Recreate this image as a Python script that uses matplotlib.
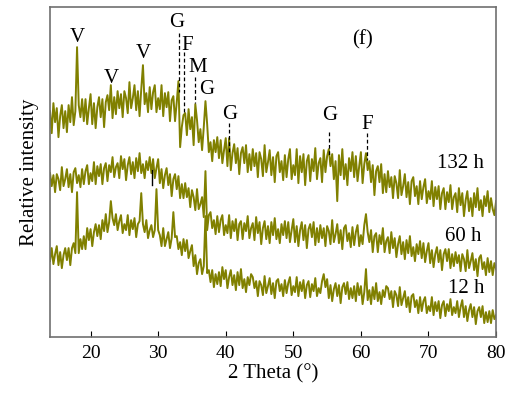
import numpy as np
import matplotlib
matplotlib.use("Agg")
import matplotlib.pyplot as plt

i_132h = [
    226, 204, 234, 215, 229, 200, 221, 232, 209, 226, 205, 232, 215, 240, 212, 226, 290, 232, 220, 238,
    216, 238, 213, 229, 243, 213, 234, 209, 230, 240, 220, 238, 210, 235, 242, 227, 252, 219, 240, 223,
    246, 229, 243, 220, 246, 239, 224, 255, 229, 239, 252, 227, 246, 221, 248, 272, 233, 244, 225, 250,
    228, 245, 252, 225, 239, 228, 252, 221, 244, 230, 245, 216, 237, 241, 216, 235, 256, 190, 210, 222,
    224, 202, 228, 208, 220, 192, 233, 217, 195, 208, 187, 210, 236, 213, 185, 195, 176, 197, 185, 200,
    179, 197, 174, 187, 199, 171, 199, 167, 184, 193, 174, 189, 163, 184, 190, 174, 192, 165, 183, 167,
    188, 171, 184, 160, 185, 178, 161, 192, 165, 175, 187, 162, 180, 155, 181, 185, 165, 176, 157, 182,
    160, 178, 188, 158, 172, 162, 188, 154, 181, 165, 183, 152, 176, 182, 156, 178, 166, 189, 158, 174,
    179, 155, 187, 165, 181, 188, 171, 183, 158, 176, 136, 182, 162, 188, 158, 173, 152, 179, 166, 185,
    160, 181, 156, 171, 185, 154, 173, 184, 167, 176, 155, 172, 142, 166, 171, 155, 173, 144, 163, 145,
    166, 150, 160, 139, 161, 154, 139, 167, 142, 151, 163, 140, 155, 133, 156, 160, 141, 151, 133, 156,
    138, 150, 158, 134, 146, 138, 156, 131, 150, 138, 151, 128, 144, 149, 128, 145, 135, 152, 128, 140,
    144, 125, 149, 132, 144, 121, 137, 146, 126, 139, 121, 144, 130, 149, 127, 137, 121, 141, 131, 146,
    125, 139, 128, 122, 136,
]
i_60h = [
    164, 151, 162, 145, 163, 158, 147, 170, 151, 158, 168, 150, 163, 145, 165, 169, 154, 162, 150, 168,
    153, 166, 172, 153, 164, 156, 175, 153, 171, 161, 173, 153, 169, 174, 156, 172, 165, 180, 160, 170,
    174, 159, 181, 168, 178, 157, 172, 180, 163, 175, 159, 179, 166, 184, 164, 173, 159, 176, 167, 180,
    164, 178, 159, 169, 178, 154, 168, 149, 162, 169, 152, 163, 141, 158, 163, 148, 161, 139, 153, 139,
    154, 140, 149, 130, 147, 140, 127, 148, 128, 133, 140, 120, 166, 107, 122, 125, 109, 117, 103, 121,
    105, 117, 122, 102, 112, 104, 122, 99, 116, 106, 118, 97, 113, 116, 98, 114, 106, 121, 99, 109,
    114, 97, 120, 104, 115, 93, 109, 116, 98, 111, 94, 115, 102, 119, 98, 108, 94, 113, 102, 116,
    99, 115, 95, 107, 118, 95, 111, 91, 107, 115, 97, 112, 89, 108, 113, 100, 115, 92, 109, 95,
    112, 99, 109, 91, 111, 106, 93, 117, 95, 103, 113, 94, 107, 88, 109, 112, 96, 104, 90, 110,
    92, 105, 112, 91, 102, 93, 112, 123, 105, 95, 107, 85, 101, 104, 85, 102, 93, 109, 85, 96,
    100, 84, 105, 89, 99, 80, 93, 101, 83, 95, 78, 97, 84, 101, 81, 90, 76, 93, 83, 96,
    79, 94, 75, 86, 94, 74, 87, 70, 83, 90, 75, 87, 67, 83, 88, 76, 88, 69, 83, 71,
    85, 74, 82, 66, 83, 78, 66, 87, 69, 76, 84, 67, 78, 61, 79, 82, 68, 75, 62, 79,
    65, 76, 62, 74, 68,
]
i_12h = [
    76, 89, 73, 83, 91, 72, 85, 69, 82, 89, 77, 89, 72, 89, 94, 84, 145, 84, 98, 88,
    101, 88, 109, 97, 108, 91, 105, 113, 101, 112, 98, 117, 106, 123, 105, 115, 136, 119, 112, 123,
    107, 116, 122, 104, 113, 107, 122, 102, 117, 108, 119, 100, 113, 116, 144, 113, 105, 117, 99, 107,
    112, 100, 107, 148, 107, 102, 91, 109, 91, 98, 105, 89, 99, 125, 100, 101, 88, 95, 82, 98,
    86, 97, 79, 86, 92, 71, 82, 63, 74, 78, 63, 71, 121, 64, 67, 55, 67, 50, 63, 53,
    65, 51, 70, 58, 67, 49, 60, 67, 52, 62, 47, 65, 52, 68, 49, 58, 45, 60, 52, 63,
    60, 49, 56, 41, 56, 52, 42, 61, 44, 51, 59, 43, 54, 39, 56, 58, 46, 53, 41, 57,
    44, 54, 60, 42, 51, 45, 60, 41, 55, 46, 57, 39, 52, 56, 40, 53, 46, 59, 41, 49,
    44, 56, 63, 50, 58, 39, 52, 36, 48, 54, 41, 52, 34, 50, 54, 43, 55, 38, 49, 39,
    51, 36, 54, 42, 51, 33, 45, 68, 37, 47, 33, 50, 38, 54, 36, 45, 33, 47, 40, 51,
    49, 38, 46, 30, 46, 42, 31, 50, 32, 39, 46, 30, 40, 25, 41, 43, 30, 37, 24, 40,
    26, 36, 40, 24, 31, 26, 40, 22, 35, 26, 36, 19, 32, 36, 21, 33, 26, 38, 22, 30,
    24, 36, 20, 30, 37, 20, 31, 16, 27, 33, 20, 30, 13, 26, 30, 20, 31, 14, 25, 15,
    26, 14, 27, 18, 22,
]
two_theta = np.linspace(14, 80, len(i_12h))  # barrido de 14 a 80 grados

# Letras de fase: (letra, posicion x, posicion y)
fases = [("V", 18.1, 300), ("V", 23.0, 259), ("V", 27.8, 284),
         ("G", 32.8, 315), ("F", 34.3, 292), ("M", 35.9, 270), ("G", 37.2, 248),
         ("G", 40.6, 223), ("G", 55.4, 222), ("F", 60.9, 213)]
# Lineas punteadas de referencia: (x, y inicio, y fin)
guias = [(33.1, 304, 245), (33.8, 285, 224), (35.45, 260, 234),
         (40.5, 214, 184), (55.3, 205, 182), (60.9, 204, 177)]
muestras = [("132 h", 74.8, 174), ("60 h", 75.2, 101), ("12 h", 75.6, 49)]

plt.rcParams["font.family"] = ["Liberation Serif", "DejaVu Serif"]
color = "#808000"

fig = plt.figure(figsize=(5.13, 3.98), dpi=100)
ax = fig.add_axes([0.0975, 0.153, 0.8695, 0.829])

for serie in (i_132h, i_60h, i_12h):
    ax.plot(two_theta, serie, color=color, lw=1.4)

for x, y0, y1 in guias:
    ax.plot([x, x], [y0, y1], color="black", lw=0.9, ls=(0, (3, 2)))
ax.plot([29.1, 29.1], [152, 167], color="black", lw=1.0)  # marca negra pequena

for letra, x, y in fases:
    ax.text(x, y, letra, fontsize=15, ha="center", va="center")
for nombre, x, y in muestras:
    ax.text(x, y, nombre, fontsize=15, ha="center", va="center")
ax.text(60.3, 297, "(f)", fontsize=15, ha="center", va="center")

ax.set_xlim(14, 80)
ax.set_ylim(0, 330)
ax.set_xticks([20, 30, 40, 50, 60, 70, 80])
ax.set_yticks([])
ax.tick_params(axis="x", direction="in", length=4, labelsize=14, pad=6)
for lado in ax.spines.values():
    lado.set_color("#707070")
    lado.set_linewidth(1.2)
ax.set_xlabel("2 Theta (°)", fontsize=15, labelpad=1)
ax.set_ylabel("Relative intensity", fontsize=15, labelpad=8)

fig.savefig("out.png", dpi=100)
